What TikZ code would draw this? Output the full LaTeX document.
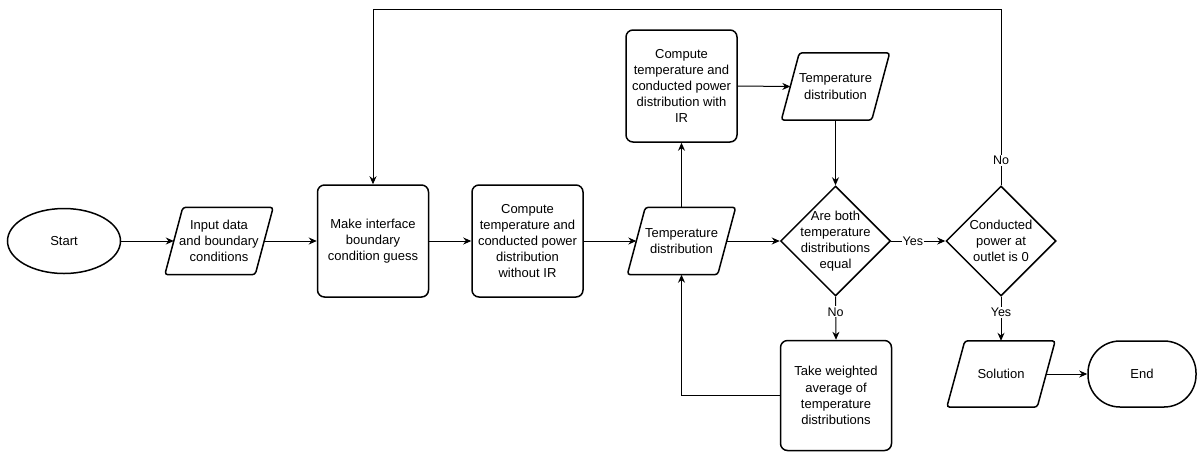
\documentclass[tikz,border=0pt]{standalone}
\usepackage{fontspec}
\setmainfont{Liberation Sans}
\usetikzlibrary{shapes.geometric,arrows.meta}
\newcommand\drawio[1]{\draw[line width=1.5pt,rounded corners=3pt] ([xshift=18pt]#1.north west) -- (#1.north east) -- ([xshift=-18pt]#1.south east) -- (#1.south west) -- cycle;}
\begin{document}
\begin{tikzpicture}[x=1pt,y=-1pt,
  txt/.style={align=center,font=\fontsize{13}{16.2}\selectfont,inner sep=0pt},
  box/.style={draw,line width=1.5pt,rounded corners=7pt,minimum width=111pt,minimum height=112pt,inner sep=0pt},
  io/.style={rectangle,minimum width=108pt,minimum height=67pt,inner sep=0pt},
  dec/.style={diamond,draw,line width=1.5pt,minimum width=110pt,minimum height=110pt,inner sep=0pt},
  startshape/.style={ellipse,draw,line width=1.5pt,minimum width=113pt,minimum height=65pt,inner sep=0pt},
  endshape/.style={rectangle,draw,line width=1.5pt,rounded corners=32pt,minimum width=108pt,minimum height=66pt,inner sep=0pt},
  arr/.style={line width=1pt,-{Stealth[length=8pt,width=7pt]}},
  lbl/.style={fill=white,font=\fontsize{12.5}{15}\selectfont,inner sep=1pt}
]
\useasboundingbox (0,0) rectangle (1198,451);

\node[startshape,label={[txt]center:Start}] (start) at (64,241) {};
\node[io,label={[txt]center:Input data\\and boundary\\conditions}] (input) at (219,241) {};
\node[box,label={[txt]center:Make interface\\boundary\\condition guess}] (guess) at (373,241) {};
\node[box,label={[txt]center:Compute\\temperature and\\conducted power\\distribution\\without IR}] (comp1) at (527.5,241) {};
\node[io,label={[txt]center:Temperature\\distribution}] (td1) at (681.5,241) {};
\node[box,label={[txt]center:Compute\\temperature and\\conducted power\\distribution with\\IR}] (comp2) at (681.5,86) {};
\node[io,label={[txt]center:Temperature\\distribution}] (td2) at (835.5,86.5) {};
\node[dec,label={[txt]center:Are both\\temperature\\distributions\\equal}] (eq) at (835.5,241) {};
\node[dec,label={[txt]center:Conducted\\power at\\outlet is 0}] (cp) at (1001,241) {};
\node[box,minimum height=110pt,label={[txt]center:Take weighted\\average of\\temperature\\distributions}] (avg) at (836,395.5) {};
\node[io,minimum height=66pt,label={[txt]center:Solution}] (sol) at (1001,374) {};
\node[endshape,label={[txt]center:End}] (end) at (1142,374) {};
\coordinate (top) at (1001,9);

\drawio{input}
\drawio{td1}
\drawio{td2}
\drawio{sol}

\draw[arr] (start.east) -- ([xshift=9pt]input.west);
\draw[arr] ([xshift=-9pt]input.east) -- (guess.west);
\draw[arr] (guess.east) -- (comp1.west);
\draw[arr] (comp1.east) -- ([xshift=9pt]td1.west);
\draw[arr] ([xshift=-9pt]td1.east) -- (eq.west);
\draw[arr] (td1.north) -- (comp2.south);
\draw[arr] (comp2.east) -- ([xshift=9pt]td2.west);
\draw[arr] (td2.south) -- (eq.north);
\draw[arr] (eq.east) -- node[lbl,pos=0.4]{Yes} (cp.west);
\draw[arr] (eq.south) -- node[lbl,pos=0.35]{No} (avg.north);
\draw[arr] (cp.south) -- node[lbl,pos=0.35]{Yes} (sol.north);
\draw[arr] ([xshift=-9pt]sol.east) -- (end.west);
\draw[arr] (avg.west) -| (td1.south);
\draw[arr] (cp.north) -- node[lbl,pos=0.14]{No} (top) -| (guess.north);
\end{tikzpicture}
\end{document}
